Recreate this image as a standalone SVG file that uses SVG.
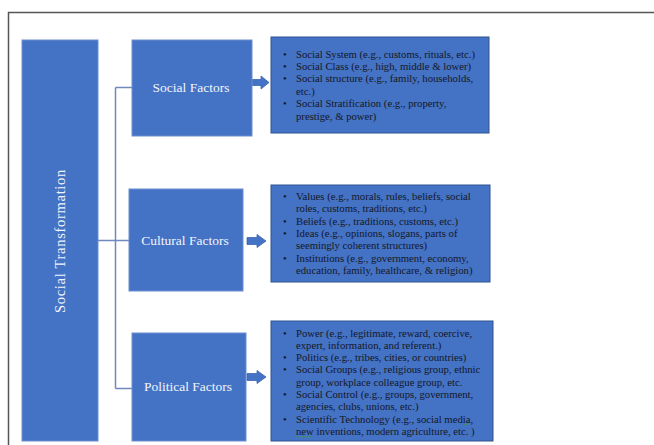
<svg xmlns="http://www.w3.org/2000/svg" width="654" height="445" viewBox="0 0 654 445">
<defs>
<style>
.box{fill:#4472C4;stroke:#6d8fd0;stroke-width:1}
.dbox{fill:#4472C4;stroke:#2f528f;stroke-width:1}
.lbl{font-family:"Liberation Serif","Times New Roman",serif;font-size:13.5px;fill:#f2f5fb;text-anchor:middle}
.vlbl{font-family:"Liberation Serif","Times New Roman",serif;font-size:14.5px;letter-spacing:0.7px;fill:#f2f5fb;text-anchor:middle}
.txt{font-family:"Liberation Serif","Times New Roman",serif;font-size:10.7px;fill:#141828}
.conn{fill:none;stroke:#6f88bf;stroke-width:1.5}
.arr{fill:#4472C4;stroke:#3a65b5;stroke-width:0.8}
.sq{fill:none;stroke:#3d9a3d;stroke-width:0.8}
</style>
</defs>
<rect width="654" height="445" fill="#ffffff"/>
<path d="M8.5 445 V12.5 H654" fill="none" stroke="#555555" stroke-width="1.5"/>
<g id="connectors">
<path class="conn" d="M98 240.5 H129 M115.5 87.5 V388.5 M115.5 87.5 H132 M115.5 388.5 H132"/>
<path class="arr" d="M251 79.5 H261 V76 L269 82.5 L261 89 V85.5 H251 Z"/>
<path class="arr" d="M247 237.5 H257 V234.5 L266 241 L257 247.5 V244.5 H247 Z"/>
<path class="arr" d="M247 373.5 H257 V370.5 L266 377 L257 383.5 V380.5 H247 Z"/>
</g>
<g id="social-transformation">
<rect class="box" x="22" y="40" width="76" height="401"/>
<text class="vlbl" transform="translate(64.5 241) rotate(-90)">Social Transformation</text>
</g>
<g id="social-factors">
<rect class="box" x="132" y="40" width="120" height="96"/>
<text class="lbl" x="191" y="91.5">Social Factors</text>
</g>
<g id="cultural-factors">
<rect class="box" x="129" y="189" width="114" height="102"/>
<text class="lbl" x="185" y="244.5">Cultural Factors</text>
</g>
<g id="political-factors">
<rect class="box" x="132" y="333" width="114" height="108"/>
<text class="lbl" x="188" y="390.5">Political Factors</text>
</g>
<g id="social-details">
<rect class="dbox" x="271" y="37" width="218" height="96"/>
<g class="txt">
<text x="283" y="57.5">•</text><text x="296" y="57.5">Social System (e.g., customs, rituals, etc.)</text>
<text x="283" y="69.9">•</text><text x="296" y="69.9">Social Class (e.g., high, middle &amp; lower)</text>
<text x="283" y="82.3">•</text><text x="296" y="82.3">Social structure (e.g., family, households,</text>
<text x="296" y="94.7">etc.)</text>
<text x="283" y="107.1">•</text><text x="296" y="107.1">Social Stratification (e.g., property,</text>
<text x="296" y="119.5">prestige, &amp; power)</text>
</g>
</g>
<g id="cultural-details">
<rect class="dbox" x="271" y="185" width="219" height="97"/>
<g class="txt">
<text x="283" y="200">•</text><text x="296" y="200">Values (e.g., morals, rules, beliefs, social</text>
<text x="296" y="212.3">roles, customs, traditions, etc.)</text>
<text x="283" y="224.6">•</text><text x="296" y="224.6">Beliefs (e.g., traditions, customs, etc.)</text>
<text x="283" y="236.9">•</text><text x="296" y="236.9">Ideas (e.g., opinions, slogans, parts of</text>
<text x="296" y="249.2">seemingly coherent structures)</text>
<text x="283" y="261.5">•</text><text x="296" y="261.5">Institutions (e.g., government, economy,</text>
<text x="296" y="273.8">education, family, healthcare, &amp; religion)</text>
</g>
</g>
<g id="political-details">
<rect class="dbox" x="271" y="321" width="222" height="120"/>
<g class="txt">
<text x="283" y="336.5">•</text><text x="296" y="336.5">Power (e.g., legitimate, reward, coercive,</text>
<text x="296" y="348.8">expert, information, and referent.)</text>
<text x="283" y="361.1">•</text><text x="296" y="361.1">Politics (e.g., tribes, cities, or countries)</text>
<text x="283" y="373.4">•</text><text x="296" y="373.4">Social Groups (e.g., religious group, ethnic</text>
<text x="296" y="385.7">group, workplace colleague group, etc.</text>
<text x="283" y="398">•</text><text x="296" y="398">Social Control (e.g., groups, government,</text>
<text x="296" y="410.3">agencies, clubs, unions, etc.)</text>
<text x="283" y="422.6">•</text><text x="296" y="422.6">Scientific Technology (e.g., social media,</text>
<text x="296" y="434.9">new inventions, modern agriculture, etc. )</text>
</g>
<path class="sq" d="M464 425 l1.5 -1.5 l1.5 1.5 l1.5 -1.5 l1.5 1.5 M296 437.5 l1.5 -1.5 l1.5 1.5 l1.5 -1.5 l1.5 1.5 l1.5 -1.5 l1.5 1.5 l1.5 -1.5 l1.5 1.5 l1.5 -1.5 l1.5 1.5"/>
</g>
</svg>
